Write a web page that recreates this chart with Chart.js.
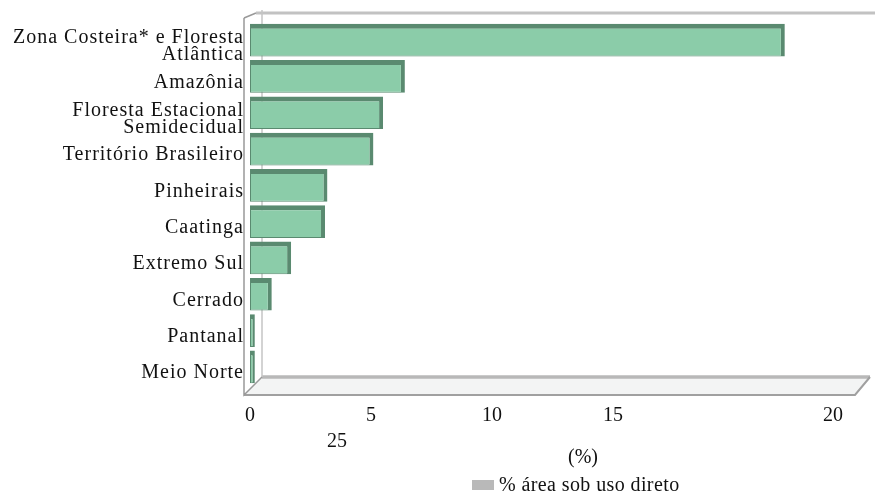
<!DOCTYPE html>
<html lang="pt">
<head>
<meta charset="utf-8">
<title>% área sob uso direto</title>
<script src="https://cdn.jsdelivr.net/npm/chart.js@4.4.1/dist/chart.umd.min.js"></script>
<style>
  html, body { margin: 0; padding: 0; background: #ffffff; }
  #wrap { position: relative; width: 875px; height: 498px; }
</style>
</head>
<body>
<div id="wrap"><canvas id="chart" width="875" height="498"></canvas></div>
<script>
// Regiões (uma linha por categoria; rótulos longos quebrados em duas linhas)
const regioes = [
  ['Zona Costeira* e Floresta', 'Atlântica'],
  'Amazônia',
  ['Floresta Estacional', 'Semidecidual'],
  'Território Brasileiro',
  'Pinheirais',
  'Caatinga',
  'Extremo Sul',
  'Cerrado',
  'Pantanal',
  'Meio Norte'
];

// Percentual da área sob uso direto
const areaUsoDireto = [22.1, 6.4, 5.5, 5.1, 3.2, 3.1, 1.7, 0.9, 0.2, 0.2];

// Rótulos do eixo de valores
const rotulosEixo = ['0', '5', '10', '15', '20', '25'];
const valoresEixo = [0, 5, 10, 15, 20, 25];

const tituloEixo = '(%)';
const nomeSerie = '% área sob uso direto';

const SERIF = '"Liberation Serif", "Times New Roman", Times, serif';
const TEXTO = '#111111';

// Espaçamento entre letras do texto serifado
const espacamento = {
  id: 'espacamento',
  beforeUpdate(chart) { chart.ctx.letterSpacing = '1px'; },
  beforeDraw(chart) { chart.ctx.letterSpacing = '1px'; }
};

// Caixa em perspectiva: parede de fundo, parede lateral e piso
const caixa3d = {
  id: 'caixa3d',
  beforeDatasetsDraw(chart) {
    const { ctx, chartArea: a } = chart;
    const dx = 15, dy = 9;
    const frontL = a.left - 6;
    const floorFront = a.bottom + 10;
    const floorBack = a.bottom - 8;
    ctx.save();
    ctx.letterSpacing = '0px';

    // piso
    ctx.beginPath();
    ctx.moveTo(frontL, floorFront);
    ctx.lineTo(frontL + 18, floorBack);
    ctx.lineTo(a.right + dx, floorBack);
    ctx.lineTo(a.right, floorFront);
    ctx.closePath();
    ctx.fillStyle = '#f3f4f4';
    ctx.fill();

    // borda de fundo do piso
    ctx.strokeStyle = '#b8b8b8';
    ctx.lineWidth = 3.5;
    ctx.beginPath();
    ctx.moveTo(frontL + 18, floorBack);
    ctx.lineTo(a.right + dx, floorBack);
    ctx.stroke();

    // borda frontal do piso e aresta direita
    ctx.strokeStyle = '#a0a0a0';
    ctx.lineWidth = 2;
    ctx.beginPath();
    ctx.moveTo(frontL, floorFront);
    ctx.lineTo(a.right, floorFront);
    ctx.lineTo(a.right + dx, floorBack);
    ctx.stroke();

    // parede de fundo: linha superior
    ctx.strokeStyle = '#c2c2c2';
    ctx.lineWidth = 3;
    ctx.beginPath();
    ctx.moveTo(frontL + 12, a.top - dy);
    ctx.lineTo(chart.width, a.top - dy);
    ctx.stroke();

    // parede lateral: aresta de fundo
    ctx.strokeStyle = '#c4c4c4';
    ctx.lineWidth = 1.5;
    ctx.beginPath();
    ctx.moveTo(frontL + 18, a.top - dy - 3);
    ctx.lineTo(frontL + 18, floorBack);
    ctx.stroke();

    // parede lateral: aresta frontal
    ctx.strokeStyle = '#999999';
    ctx.lineWidth = 1.5;
    ctx.beginPath();
    ctx.moveTo(frontL, a.top - 4);
    ctx.lineTo(frontL, floorFront);
    ctx.lineTo(frontL + 18, floorBack);
    ctx.stroke();
    ctx.beginPath();
    ctx.moveTo(frontL, a.top - 4);
    ctx.lineTo(frontL + 12, a.top - dy);
    ctx.stroke();
    ctx.restore();
  }
};

// Rótulos do eixo de valores, título do eixo e legenda
const textosEixo = {
  id: 'textosEixo',
  afterDraw(chart) {
    const { ctx, chartArea: a } = chart;
    const x = chart.scales.x;
    ctx.save();
    ctx.letterSpacing = '0px';
    ctx.fillStyle = TEXTO;
    ctx.font = '20px ' + SERIF;
    ctx.textAlign = 'center';
    ctx.textBaseline = 'middle';
    const linha1 = a.bottom + 31;
    rotulosEixo.forEach((t, i) => {
      const v = valoresEixo[i];
      if (v <= 15) {
        ctx.fillText(t, x.getPixelForValue(v), linha1);
      } else if (v === 20) {
        ctx.fillText(t, a.right - 22, linha1);
      } else {
        ctx.fillText(t, a.left + 87, linha1 + 26);
      }
    });

    // título do eixo
    ctx.font = '20px ' + SERIF;
    ctx.fillText(tituloEixo, a.left + 333, a.bottom + 73);

    // legenda
    const lx = a.left + 222, ly = a.bottom + 95;
    ctx.fillStyle = '#b9b9b9';
    ctx.fillRect(lx, ly, 22, 10);
    ctx.fillStyle = TEXTO;
    ctx.textAlign = 'left';
    ctx.font = '20px ' + SERIF;
    ctx.letterSpacing = '0.4px';
    ctx.fillText(nomeSerie, lx + 27, ly + 6);
    ctx.restore();
  }
};

new Chart(document.getElementById('chart'), {
  type: 'bar',
  data: {
    labels: regioes,
    datasets: [{
      label: nomeSerie,
      data: areaUsoDireto,
      backgroundColor: '#8bcca9',
      borderColor: '#5a8a70',
      borderWidth: { top: 5, right: 4, bottom: 1, left: 1 },
      borderSkipped: false,
      categoryPercentage: 1.0,
      barPercentage: 0.9
    }]
  },
  options: {
    indexAxis: 'y',
    responsive: false,
    animation: false,
    devicePixelRatio: 1,
    layout: { padding: { left: 0, right: 20, top: 22, bottom: 113 } },
    plugins: {
      legend: { display: false },
      tooltip: { enabled: false }
    },
    scales: {
      x: {
        type: 'linear',
        min: 0,
        max: 25,
        display: false
      },
      y: {
        type: 'category',
        grid: { display: false, drawTicks: false },
        border: { display: false },
        ticks: {
          color: TEXTO,
          padding: 6,
          labelOffset: 6,
          autoSkip: false,
          font: { family: SERIF, size: 20, lineHeight: 0.85 }
        },
        afterFit(scale) { scale.width = 250; }
      }
    }
  },
  plugins: [espacamento, caixa3d, textosEixo]
});
</script>
</body>
</html>
